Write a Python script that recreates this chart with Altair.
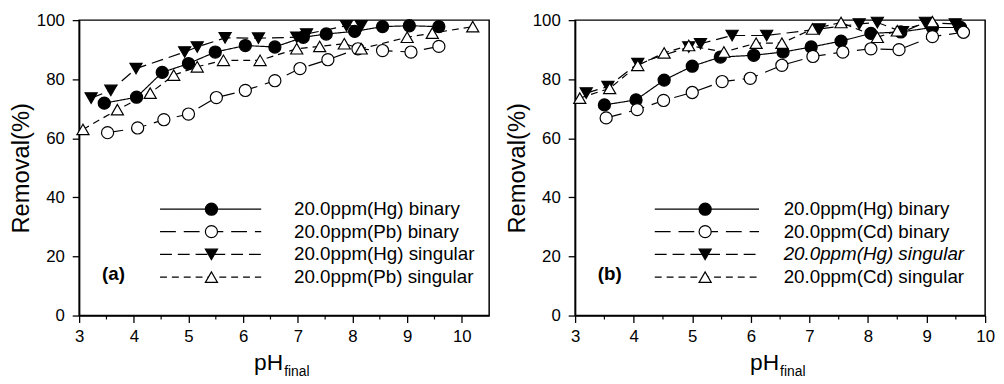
import altair as alt
import pandas as pd

# ---------------- data ----------------
# Panel (a): Hg / Pb
A_HG_BIN_X = [3.46, 4.05, 4.52, 5.00, 5.49, 6.04, 6.58, 7.10, 7.52, 8.04, 8.55, 9.04, 9.58]
A_HG_BIN_Y = [71.9, 73.9, 82.3, 85.3, 89.2, 91.4, 90.9, 94.2, 95.3, 96.2, 97.8, 98.1, 97.8]
A_PB_BIN_X = [3.52, 4.07, 4.55, 5.00, 5.51, 6.04, 6.58, 7.04, 7.55, 8.10, 8.55, 9.07, 9.58]
A_PB_BIN_Y = [61.9, 63.5, 66.3, 68.2, 73.8, 76.2, 79.5, 83.6, 86.6, 90.3, 89.7, 89.2, 91.1]
A_HG_SING_X = [3.22, 3.58, 4.04, 4.93, 5.16, 5.67, 6.28, 6.98, 7.16, 7.89, 8.16]
A_HG_SING_Y = [73.6, 76.2, 83.6, 89.2, 90.9, 94.0, 93.9, 94.2, 95.3, 98.1, 98.1]
A_PB_SING_X = [3.07, 3.70, 4.30, 4.73, 5.16, 5.64, 6.31, 6.98, 7.40, 7.85, 8.16, 9.00, 9.46, 10.2]
A_PB_SING_Y = [63.0, 69.7, 75.3, 81.4, 84.2, 86.4, 86.4, 90.3, 91.1, 92.0, 90.3, 94.2, 95.6, 97.8]

# Panel (b): Hg / Cd
B_HG_BIN_X = [3.50, 4.04, 4.52, 5.00, 5.48, 6.05, 6.55, 7.03, 7.54, 8.05, 8.56, 9.10, 9.58]
B_HG_BIN_Y = [71.3, 73.0, 79.7, 84.4, 87.5, 88.1, 89.2, 90.9, 92.9, 95.5, 96.0, 97.5, 97.5]
B_CD_BIN_X = [3.53, 4.06, 4.51, 5.00, 5.51, 5.99, 6.53, 7.06, 7.57, 8.05, 8.53, 9.10, 9.63]
B_CD_BIN_Y = [66.9, 69.7, 72.8, 75.5, 79.2, 80.3, 84.7, 87.7, 89.2, 90.3, 90.0, 94.4, 95.9]
B_HG_SING_X = [3.19, 3.56, 4.07, 4.94, 5.14, 5.68, 6.27, 7.17, 7.85, 8.16, 8.59, 8.98, 9.49]
B_HG_SING_Y = [75.3, 77.5, 85.3, 90.9, 92.0, 94.8, 94.8, 97.0, 98.7, 99.2, 96.0, 99.2, 98.7]
B_CD_SING_X = [3.08, 3.59, 4.07, 4.52, 4.94, 5.54, 6.09, 6.53, 7.05, 7.54, 8.16, 8.50, 9.10]
B_CD_SING_Y = [73.6, 76.9, 84.7, 88.9, 91.4, 89.2, 92.2, 92.2, 97.0, 99.2, 94.2, 96.4, 99.5]

SERIES_KEYS = ["hg_bin", "m_bin", "hg_sing", "m_sing"]
A_LABELS = ["20.0ppm(Hg) binary", "20.0ppm(Pb) binary", "20.0ppm(Hg) singular", "20.0ppm(Pb) singular"]
B_LABELS = ["20.0ppm(Hg) binary", "20.0ppm(Cd) binary", "20.0ppm(Hg) singular", "20.0ppm(Cd) singular"]

X_TICKS = [3, 4, 5, 6, 7, 8, 9, 10]
X_MINOR = [3.5, 4.5, 5.5, 6.5, 7.5, 8.5, 9.5]
Y_TICKS = [0, 20, 40, 60, 80, 100]

# ---------------- styling / layout ----------------
FONT = "Liberation Sans"
WA, WB, H = 415, 415, 299
SHAPES = ["circle", "circle", "triangle-down", "triangle-up"]
FILLS = ["black", "white", "black", "white"]
DASHES = [[1, 0], [16, 8], [12, 6], [7, 5]]

# legend layout (in data units of each panel)
LEG_ROWS_Y = [36.0, 28.4, 20.7, 13.0]
LEG_A = dict(x1=4.48, x2=6.33, xm=5.42, xt=6.93, lab_x=3.63, lab_y=14.0)
LEG_B = dict(x1=4.36, x2=6.14, xm=5.22, xt=6.56, lab_x=3.59, lab_y=14.0)


def build_panel(series, labels, xdomain, leg, tag, W, italic_row=None):
    rows = []
    for i, (xs, ys) in enumerate(series):
        for k, (xv, yv) in enumerate(zip(xs, ys)):
            rows.append({"key": SERIES_KEYS[i], "x": xv, "y": yv, "o": k})
    df = pd.DataFrame(rows)

    xsc = alt.Scale(domain=xdomain, nice=False, zero=False)
    ysc = alt.Scale(domain=[0, 100], nice=False, zero=False)
    shape = alt.Shape("key:N", scale=alt.Scale(domain=SERIES_KEYS, range=SHAPES), legend=None)
    fill = alt.Fill("key:N", scale=alt.Scale(domain=SERIES_KEYS, range=FILLS), legend=None)
    dash = alt.StrokeDash("key:N", scale=alt.Scale(domain=SERIES_KEYS, range=DASHES), legend=None)

    xaxis = alt.Axis(values=X_TICKS, title=None, grid=False, tickSize=7, labelPadding=6,
                     labelFontSize=17, labelFont=FONT, labelColor="black",
                     domainColor="black", tickColor="black", domainWidth=1.5, tickWidth=1.3,
                     labelFlush=False)
    yaxis = alt.Axis(values=Y_TICKS, title="Removal(%)", grid=False, tickSize=7, labelPadding=8,
                     labelFontSize=17, labelFont=FONT, labelColor="black",
                     titleFontSize=24, titleFont=FONT, titleFontWeight="normal", titleColor="black",
                     titlePadding=3, domainColor="black", tickColor="black", domainWidth=1.5,
                     tickWidth=1.3, labelFlush=False)

    def X(f):
        return alt.X(f"{f}:Q", scale=xsc, axis=xaxis, title=None)

    def Y(f):
        return alt.Y(f"{f}:Q", scale=ysc, axis=yaxis, title="Removal(%)")

    lines = alt.Chart(df).mark_line(color="black", strokeWidth=1.2).encode(
        x=X("x"), y=Y("y"), detail="key:N", strokeDash=dash, order="o:Q")
    points = alt.Chart(df).mark_point(filled=True, stroke="black", strokeWidth=1.2,
                                      size=150, opacity=1, fillOpacity=1).encode(
        x=X("x"), y=Y("y"), shape=shape, fill=fill)

    ldf = pd.DataFrame({"key": SERIES_KEYS, "label": labels, "ly": LEG_ROWS_Y,
                        "x1": [leg["x1"]] * 4, "x2": [leg["x2"]] * 4,
                        "xm": [leg["xm"]] * 4, "xt": [leg["xt"]] * 4,
                        "italic": [i == italic_row for i in range(4)]})
    leg_lines = alt.Chart(ldf).mark_rule(color="black", strokeWidth=1.2).encode(
        x=X("x1"), x2="x2:Q", y=Y("ly"), strokeDash=dash)
    leg_pts = alt.Chart(ldf).mark_point(filled=True, stroke="black", strokeWidth=1.2,
                                        size=150, opacity=1, fillOpacity=1).encode(
        x=X("xm"), y=Y("ly"), shape=shape, fill=fill)
    leg_txt = alt.Chart(ldf).transform_filter("!datum.italic").mark_text(
        align="left", baseline="middle", fontSize=19, font=FONT, color="black").encode(
        x=X("xt"), y=Y("ly"), text="label:N")
    leg_txt_it = alt.Chart(ldf).transform_filter("datum.italic").mark_text(
        align="left", baseline="middle", fontSize=19, font=FONT, color="black",
        fontStyle="italic").encode(x=X("xt"), y=Y("ly"), text="label:N")

    tag_df = pd.DataFrame({"t": [tag], "tx": [leg["lab_x"]], "ty": [leg["lab_y"]]})
    tag_txt = alt.Chart(tag_df).mark_text(fontSize=19, fontWeight="bold", font=FONT,
                                          color="black", baseline="middle").encode(
        x=X("tx"), y=Y("ty"), text="t:N")

    minor = alt.Chart(pd.DataFrame({"m": X_MINOR})).mark_rule(color="black", strokeWidth=1.2).encode(
        x=X("m"), y=alt.value(H), y2=alt.value(H + 4))

    ph = alt.Chart(pd.DataFrame({"t": ["pH"]})).mark_text(
        align="right", baseline="middle", fontSize=23, font=FONT, color="black").encode(
        x=alt.value(W / 2 - 1), y=alt.value(H + 48), text="t:N")
    fin = alt.Chart(pd.DataFrame({"t": ["final"]})).mark_text(
        align="left", baseline="middle", fontSize=14, font=FONT, color="black").encode(
        x=alt.value(W / 2), y=alt.value(H + 57), text="t:N")

    return alt.layer(lines, points, leg_lines, leg_pts, leg_txt, leg_txt_it, tag_txt,
                     minor, ph, fin).properties(width=W, height=H)


panel_a = build_panel(
    [(A_HG_BIN_X, A_HG_BIN_Y), (A_PB_BIN_X, A_PB_BIN_Y),
     (A_HG_SING_X, A_HG_SING_Y), (A_PB_SING_X, A_PB_SING_Y)],
    A_LABELS, [3, 10.5], LEG_A, "(a)", WA)
panel_b = build_panel(
    [(B_HG_BIN_X, B_HG_BIN_Y), (B_CD_BIN_X, B_CD_BIN_Y),
     (B_HG_SING_X, B_HG_SING_Y), (B_CD_SING_X, B_CD_SING_Y)],
    B_LABELS, [3, 10], LEG_B, "(b)", WB, italic_row=2)

chart = alt.hconcat(panel_a, panel_b, spacing=14).properties(
    padding={"left": 0, "top": 0, "right": 0, "bottom": 0},
    background="white",
).configure_view(stroke="black", strokeWidth=1.5)

chart.save("out.html", embed_options={"renderer": "svg", "actions": False})
